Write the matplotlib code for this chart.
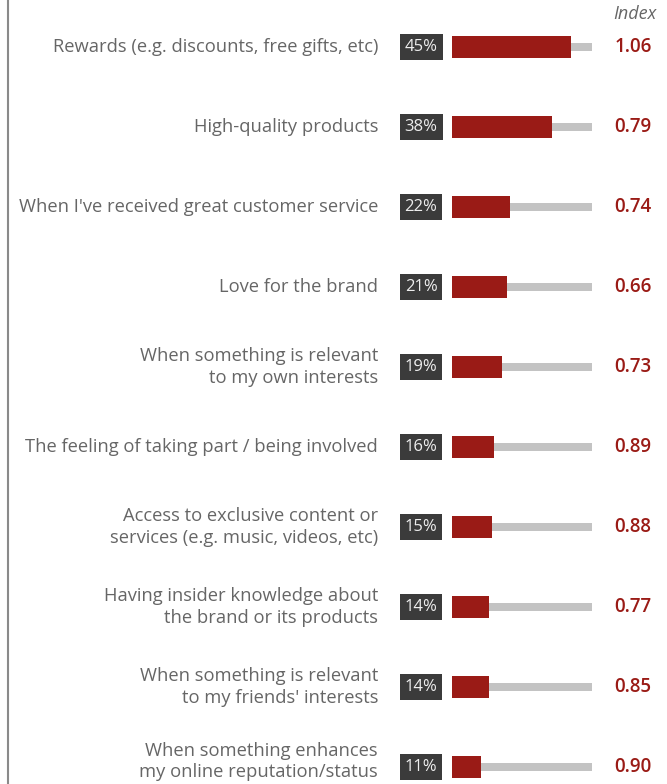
import matplotlib.pyplot as plt
import matplotlib.transforms as mtransforms

reasons = [
    "Rewards (e.g. discounts, free gifts, etc)",
    "High-quality products",
    "When I've received great customer service",
    "Love for the brand",
    "When something is relevant\nto my own interests",
    "The feeling of taking part / being involved",
    "Access to exclusive content or\nservices (e.g. music, videos, etc)",
    "Having insider knowledge about\nthe brand or its products",
    "When something is relevant\nto my friends' interests",
    "When something enhances\nmy online reputation/status",
]
shares = [45, 38, 22, 21, 19, 16, 15, 14, 14, 11]
index_values = [1.06, 0.79, 0.74, 0.66, 0.73, 0.89, 0.88, 0.77, 0.85, 0.90]
track_max = 53

RED = "#9a1b16"
TRACK = "#c3c3c3"
BOX = "#3b3b3b"
LABEL = "#666666"

plt.rcParams["font.family"] = ["Open Sans", "DejaVu Sans"]

W, H = 667, 784
fig = plt.figure(figsize=(W / 100, H / 100), dpi=100)
fig.patch.set_facecolor("white")

# bar area: x=0 sits at pixel 452, track end at pixel 592
ax = fig.add_axes([452 / W, 0, 140 / W, 1])
ax.set_xlim(0, track_max)
ax.set_ylim((H - 47) / 80, -47 / 80)
ax.axis("off")

rows = list(range(len(reasons)))
ax.barh(rows, [track_max] * len(rows), height=0.1, color=TRACK, zorder=1)
ax.barh(rows, shares, height=0.27, color=RED, zorder=2)

fig_x = mtransforms.blended_transform_factory(fig.transFigure, ax.transData)

for i, (label, share, idx) in enumerate(zip(reasons, shares, index_values)):
    # last label sits a little higher so it stays inside the figure
    ly = i - 0.07 if i == len(reasons) - 1 else i
    ax.text(378 / W, ly, label, transform=fig_x, ha="right", va="center",
            ma="right", fontsize=13.2, color=LABEL, linespacing=1.22)
    ax.text(421 / W, i, f"{share}%", transform=fig_x, ha="center", va="center",
            fontsize=12, color="#eeeeee",
            bbox=dict(boxstyle="square,pad=0.3", fc=BOX, ec="none"))
    ax.text(633 / W, i, f"{idx:.2f}", transform=fig_x, ha="center",
            va="center", fontsize=13.5, color=RED, fontweight="semibold")

fig.text(635 / W, 1 - 14 / H, "Index", ha="center", va="center",
         fontsize=13, style="italic", color=LABEL)

# thin frame line down the left edge
fig.add_artist(plt.Line2D([8 / W, 8 / W], [0, 1], transform=fig.transFigure,
                          color="#8a8a8a", lw=1.5))

fig.savefig("out.png", dpi=100)
